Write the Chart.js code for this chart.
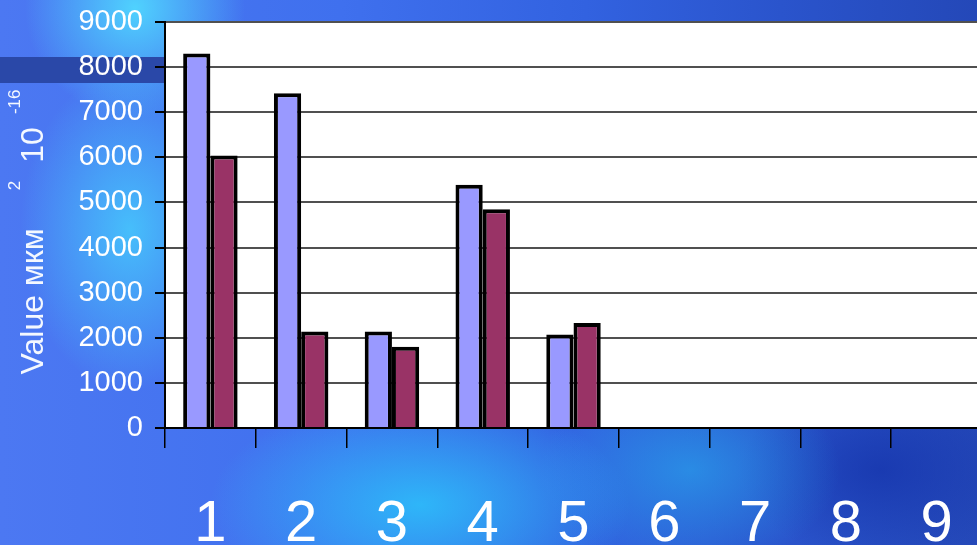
<!DOCTYPE html>
<html>
<head>
<meta charset="utf-8">
<title>Value chart</title>
<script src="https://cdn.jsdelivr.net/npm/chart.js@4/dist/chart.umd.min.js"></script>
<style>
    html, body {
        margin: 0;
        padding: 0;
        overflow: hidden;
        width: 977px;
        height: 545px;
    }
    body {
        background:
            linear-gradient(#2a48a8, #2a48a8) 0 57px / 165px 26px no-repeat,
            radial-gradient(circle at 135px 8px, rgba(80, 215, 255, 0.95), rgba(80, 215, 255, 0) 110px),
            radial-gradient(ellipse 110px 160px at 130px 230px, rgba(70, 215, 255, 0.75), rgba(70, 215, 255, 0)),
            radial-gradient(ellipse 210px 110px at 420px 505px, rgba(45, 190, 250, 0.9), rgba(45, 190, 250, 0)),
            radial-gradient(ellipse 150px 100px at 690px 470px, rgba(40, 160, 235, 0.7), rgba(40, 160, 235, 0)),
            radial-gradient(ellipse 140px 90px at 880px 470px, rgba(20, 50, 170, 0.7), rgba(20, 50, 170, 0)),
            linear-gradient(to right, #4c78f2 0%, #3f70ee 35%, #3262e0 60%, #2a54cc 80%, #2448b8 100%);
    }
    canvas {
        display: block;
    }
</style>
</head>
<body>
<canvas id="myChart" width="982" height="545"></canvas>
<script>
// Chart data
const categories = ['1', '2', '3', '4', '5', '6', '7', '8', '9'];
const seriesA = [8300, 7420, 2140, 5390, 2070, null, null, null, null];
const seriesB = [6040, 2140, 1800, 4850, 2330, null, null, null, null];
const yTicks = [0, 1000, 2000, 3000, 4000, 5000, 6000, 7000, 8000, 9000];

const fontFamily = '"Liberation Sans", Arial, sans-serif';

// White plot area behind the bars
const plotBackground = {
    id: 'plotBackground',
    beforeDraw(chart) {
        const { ctx, chartArea } = chart;
        ctx.save();
        ctx.fillStyle = '#ffffff';
        ctx.fillRect(chartArea.left, chartArea.top, chartArea.right - chartArea.left, chartArea.bottom - chartArea.top);
        ctx.restore();
    }
};

// Vertical axis title with superscripts: Value мкм² 10⁻¹⁶
const titleParts = [
    { text: 'Value мкм', size: 32, raise: 0, gap: 38 },
    { text: '2', size: 17, raise: 23, gap: 18 },
    { text: '10', size: 32, raise: 0, gap: 13 },
    { text: '-16', size: 17, raise: 23, gap: 0 }
];

const axisTitle = {
    id: 'axisTitle',
    afterDraw(chart) {
        const { ctx, chartArea } = chart;
        ctx.save();
        let total = 0;
        titleParts.forEach(p => {
            ctx.font = p.size + 'px ' + fontFamily;
            total += ctx.measureText(p.text).width + p.gap;
        });
        const centerY = (chartArea.top + chartArea.bottom) / 2 + 7;
        ctx.translate(43, centerY + total / 2);
        ctx.rotate(-Math.PI / 2);
        ctx.fillStyle = '#f4f8ff';
        ctx.textBaseline = 'alphabetic';
        let pos = 0;
        titleParts.forEach(p => {
            ctx.font = p.size + 'px ' + fontFamily;
            ctx.fillText(p.text, pos, -p.raise);
            pos += ctx.measureText(p.text).width + p.gap;
        });
        ctx.restore();
    }
};

const ctx = document.getElementById('myChart').getContext('2d');

const myChart = new Chart(ctx, {
    type: 'bar',
    data: {
        labels: categories,
        datasets: [{
            label: 'A',
            data: seriesA,
            backgroundColor: '#9999ff',
            borderColor: '#000000',
            borderWidth: 4
        }, {
            label: 'B',
            data: seriesB,
            backgroundColor: '#993366',
            borderColor: '#000000',
            borderWidth: 4
        }]
    },
    options: {
        responsive: false,
        animation: false,
        devicePixelRatio: 1,
        categoryPercentage: 0.6,
        barPercentage: 1.0,
        layout: {
            padding: { top: 22, left: 0, right: 0, bottom: 0 }
        },
        plugins: {
            legend: { display: false },
            tooltip: { enabled: false }
        },
        scales: {
            x: {
                grid: {
                    offset: true,
                    drawOnChartArea: false,
                    drawTicks: true,
                    tickLength: 20,
                    color: '#000000',
                    lineWidth: 1.5
                },
                border: { color: '#000000', width: 2 },
                ticks: {
                    color: '#ffffff',
                    padding: 42,
                    maxRotation: 0,
                    font: { family: fontFamily, size: 58 }
                },
                afterFit(scale) {
                    scale.height = 117;
                    scale.paddingLeft = 0;
                    scale.paddingRight = 0;
                }
            },
            y: {
                min: 0,
                max: 9000,
                afterBuildTicks(scale) {
                    scale.ticks = yTicks.map(v => ({ value: v }));
                },
                grid: {
                    color: '#505050',
                    lineWidth: 2,
                    tickLength: 10,
                    tickColor: '#000000'
                },
                border: { color: '#000000', width: 2 },
                ticks: {
                    color: '#ffffff',
                    padding: 12,
                    font: { family: fontFamily, size: 29 },
                    callback: value => String(value)
                },
                afterFit(scale) {
                    scale.width = 165;
                    scale.paddingTop = 0;
                    scale.paddingBottom = 0;
                }
            }
        }
    },
    plugins: [plotBackground, axisTitle]
});
</script>
</body>
</html>
